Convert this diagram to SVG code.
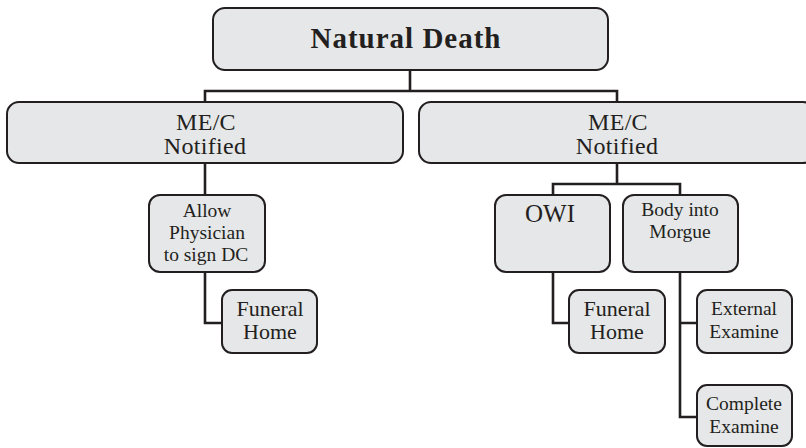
<svg xmlns="http://www.w3.org/2000/svg" width="806" height="448" viewBox="0 0 806 448">
<style>
.box{fill:#e6e7e8;stroke:#231f20;stroke-width:2}
.c{fill:none;stroke:#231f20;stroke-width:2.6}
text{font-family:"Liberation Serif","DejaVu Serif",serif;fill:#231f20;text-anchor:middle}
.t1{font-size:29px;font-weight:bold;letter-spacing:1px}
.t2{font-size:24px;letter-spacing:0.3px}
.t3{font-size:19.5px}
.t4{font-size:22px}
.t5{font-size:25px}
</style>
<rect width="806" height="448" fill="#ffffff"/>
<g id="connectors">
<path class="c" d="M410 70V91M205 102V91H617V102"/>
<path class="c" d="M205 163V195"/>
<path class="c" d="M205 272V323H222"/>
<path class="c" d="M617 163V184M553 195V184H680V195"/>
<path class="c" d="M553 272V323H569"/>
<path class="c" d="M680 272V417H697M680 323H697"/>
</g>
<g id="natural-death"><rect class="box" x="213" y="8" width="395" height="62" rx="12"/><text class="t1" x="406" y="48">Natural Death</text></g>
<g id="mec-left"><rect class="box" x="7" y="102" width="396" height="61" rx="12"/><text class="t2" x="206" y="130">ME/C</text><text class="t2" x="205" y="154">Notified</text></g>
<g id="mec-right"><rect class="box" x="419" y="102" width="396" height="61" rx="12"/><text class="t2" x="618" y="130">ME/C</text><text class="t2" x="617" y="154">Notified</text></g>
<g id="allow"><rect class="box" x="149" y="195" width="116" height="77" rx="11"/><text class="t3" x="207" y="217">Allow</text><text class="t3" x="207" y="239">Physician</text><text class="t3" x="206" y="261">to sign DC</text></g>
<g id="funeral-left"><rect class="box" x="222" y="290" width="95" height="63" rx="10"/><text class="t4" x="270" y="316">Funeral</text><text class="t4" x="270" y="339">Home</text></g>
<g id="owi"><rect class="box" x="495" y="195" width="115" height="77" rx="11"/><text class="t5" x="550" y="222">OWI</text></g>
<g id="body-morgue"><rect class="box" x="623" y="195" width="115" height="77" rx="11"/><text class="t3" x="680" y="216">Body into</text><text class="t3" x="680" y="238">Morgue</text></g>
<g id="funeral-right"><rect class="box" x="569" y="290" width="96" height="63" rx="10"/><text class="t4" x="617" y="316">Funeral</text><text class="t4" x="617" y="339">Home</text></g>
<g id="external"><rect class="box" x="697" y="290" width="95" height="63" rx="10"/><text class="t3" x="744" y="315">External</text><text class="t3" x="744" y="338">Examine</text></g>
<g id="complete"><rect class="box" x="697" y="385" width="95" height="61" rx="10"/><text class="t3" x="744" y="410">Complete</text><text class="t3" x="744" y="433">Examine</text></g>
</svg>
